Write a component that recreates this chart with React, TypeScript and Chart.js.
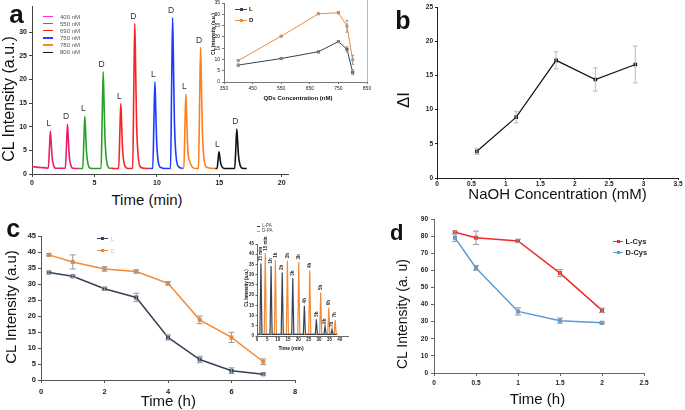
import React, { useEffect, useRef } from 'react';
import { Chart, registerables } from 'chart.js';

Chart.register(...registerables);

const FONT = '"Liberation Sans", Arial, Helvetica, sans-serif';
Chart.defaults.font.family = FONT;

// ---------- Panel a: chromatogram traces (time in min, CL intensity) ----------
const TRACE_400: [number, number][] = [[0,1.55],[0.25,1.5],[0.5,1.4],[0.8,1.35],[1.1,1.3],[1.3,1.2],[1.39,5.0],[1.47,9.1],[1.53,6.9],[1.61,3.6],[1.72,1.9],[1.92,1.2],[2.3,1.2],[2.67,1.2],[2.76,5.8],[2.84,10.5],[2.9,8.0],[2.98,4.0],[3.09,2.0],[3.29,1.2],[3.75,1.15]];
const TRACE_550: [number, number][] = [[3.75,1.15],[4.06,1.15],[4.15,6.7],[4.23,12.2],[4.29,9.2],[4.37,4.5],[4.48,2.2],[4.68,1.2],[5.1,1.15],[5.53,1.15],[5.62,11.9],[5.7,21.6],[5.76,16.2],[5.84,7.8],[5.95,3.3],[6.15,1.3],[6.3,1.2]];
const TRACE_690: [number, number][] = [[6.3,1.2],[6.6,1.15],[6.94,1.15],[7.03,8.2],[7.11,14.9],[7.17,11.2],[7.25,5.4],[7.36,2.5],[7.56,1.3],[7.8,1.15],[8.06,1.2],[8.15,17.5],[8.23,31.8],[8.29,23.9],[8.37,11.2],[8.48,4.5],[8.68,1.5],[9.0,1.2],[9.4,1.15]];
const TRACE_750: [number, number][] = [[9.4,1.15],[9.67,1.15],[9.76,10.7],[9.84,19.5],[9.9,14.6],[9.98,7.0],[10.09,3.0],[10.29,1.4],[10.7,1.15],[11.09,1.2],[11.18,18.2],[11.26,33.0],[11.32,24.8],[11.4,11.6],[11.51,4.6],[11.71,1.6],[12.07,1.2]];
const TRACE_780: [number, number][] = [[12.07,1.2],[12.16,1.15],[12.24,9.3],[12.32,16.9],[12.38,12.7],[12.46,6.0],[12.55,3.2],[12.62,2.8],[12.72,2.0],[12.9,1.3],[13.2,1.15],[13.33,1.2],[13.42,14.7],[13.5,26.7],[13.56,20.0],[13.64,9.5],[13.75,3.8],[13.95,1.5],[14.3,1.2],[14.67,1.15]];
const TRACE_800: [number, number][] = [[14.67,1.15],[14.82,1.15],[14.9,3.0],[14.97,4.7],[15.03,3.8],[15.11,2.3],[15.22,1.5],[15.42,1.15],[15.9,1.15],[16.23,1.15],[16.32,5.3],[16.4,9.5],[16.46,7.2],[16.54,3.8],[16.65,2.0],[16.85,1.2],[17.2,1.15]];
const TRACE_NAMES = ['400 nM', '550 nM', '690 nM', '750 nM', '780 nM', '800 nM'];
const PEAK_A_X = [1.47, 2.84, 4.23, 5.7, 7.11, 8.23, 9.84, 11.26, 12.32, 13.5, 14.97, 16.4];
const PEAK_A_Y = [9.1, 10.5, 12.2, 21.6, 14.9, 31.8, 19.5, 33.0, 16.9, 26.7, 4.7, 9.5];
const PEAK_A_TEXT = ['L', 'D', 'L', 'D', 'L', 'D', 'L', 'D', 'L', 'D', 'L', 'D'];
const A_X_TICKS = [0, 5, 10, 15, 20];
const A_Y_TICKS = [0, 5, 10, 15, 20, 25, 30];

// ---------- Inset of panel a: QDs concentration ----------
const QD_CONC = [400, 550, 680, 750, 780, 800];
const QD_L = [7.5, 10.4, 13.4, 17.9, 14.5, 4.3];
const QD_D = [9.5, 20.3, 30.2, 30.7, 24.7, 9.8];
const QD_L_ERR = [0.2, 0.3, 0.5, 0.4, 1.1, 1.1];
const QD_D_ERR = [0.2, 0.3, 0.3, 0.5, 2.6, 2.0];
const QD_X_TICKS = [350, 450, 550, 650, 750, 850];
const QD_Y_TICKS = [0, 5, 10, 15, 20, 25, 30, 35];

// ---------- Panel b: NaOH ----------
const NAOH = [0.58, 1.15, 1.73, 2.3, 2.88];
const DELTA_I = [3.9, 8.9, 17.2, 14.4, 16.6];
const DELTA_I_ERR = [0.45, 0.85, 1.25, 1.7, 2.7];
const B_X_TICKS = [0, 0.5, 1, 1.5, 2, 2.5, 3, 3.5];
const B_Y_TICKS = [0, 5, 10, 15, 20, 25];

// ---------- Panel c: time ----------
const TIME_C = [0.25, 1, 2, 3, 4, 5, 6, 7];
const C_L = [33.6, 32.4, 28.5, 25.8, 13.3, 6.4, 2.9, 1.8];
const C_D = [39.1, 36.9, 34.7, 33.9, 30.2, 18.8, 13.3, 5.7];
const C_L_ERR = [0.4, 0.4, 0.5, 1.3, 0.8, 1.0, 0.9, 0.4];
const C_D_ERR = [0.3, 2.2, 0.7, 0.5, 0.5, 1.2, 1.6, 0.9];
const C_X_TICKS = [0, 2, 4, 6, 8];
const C_Y_TICKS = [0, 5, 10, 15, 20, 25, 30, 35, 40, 45];

// ---------- Inset of panel c: L-PA / D-PA chromatogram ----------
const PA_L_TRACE: [number, number][] = [[0.5,0.8],[1.4,0.8],[1.9,35.5],[2.4,0.8],[6.3,0.8],[6.8,34.2],[7.3,0.8],[11.7,0.8],[12.2,31.0],[12.7,0.8],[16.8,0.8],[17.3,28.2],[17.8,0.8],[22.4,0.8],[22.9,14.8],[23.4,0.8],[28.2,0.8],[28.7,8.2],[29.2,0.8],[32.4,0.8],[32.9,4.8],[33.4,0.8],[35.8,0.8],[36.3,3.2],[36.8,0.8],[38.5,0.8]];
const PA_D_TRACE: [number, number][] = [[0.5,0.8],[3.5,0.8],[4.0,40.5],[4.5,0.8],[8.4,0.8],[8.9,37.0],[9.4,0.8],[14.2,0.8],[14.7,36.8],[15.2,0.8],[19.7,0.8],[20.2,36.2],[20.7,0.8],[25.0,0.8],[25.5,32.0],[26.0,0.8],[30.3,0.8],[30.8,21.3],[31.3,0.8],[34.2,0.8],[34.7,13.8],[35.2,0.8],[37.3,0.8],[37.8,7.8],[38.3,0.8],[39,0.8]];
const PA_L_PEAK_X = [1.9, 6.8, 12.2, 17.3, 22.9, 28.7, 32.9, 36.3];
const PA_L_PEAK_Y = [35.5, 34.2, 31.0, 28.2, 14.8, 8.2, 4.8, 3.2];
const PA_D_PEAK_X = [4.0, 8.9, 14.7, 20.2, 25.5, 30.8, 34.7, 37.8];
const PA_D_PEAK_Y = [40.5, 37.0, 36.8, 36.2, 32.0, 21.3, 13.8, 7.8];
const PA_PEAK_TEXT = ['15 min', '1h', '2h', '3h', '4h', '5h', '6h', '7h'];
const PA_X_TICKS = [0, 5, 10, 15, 20, 25, 30, 35, 40];
const PA_Y_TICKS = [0, 5, 10, 15, 20, 25, 30, 35, 40, 45];

// ---------- Panel d: Cys ----------
const TIME_D = [0.25, 0.5, 1, 1.5, 2];
const L_CYS = [82.2, 79.0, 77.2, 58.4, 36.6];
const D_CYS = [79.0, 61.4, 36.0, 30.6, 29.3];
const L_CYS_ERR = [0.6, 3.9, 1.0, 2.1, 1.3];
const D_CYS_ERR = [2.2, 1.4, 2.1, 1.5, 0.5];
const D_X_TICKS = [0, 0.5, 1, 1.5, 2, 2.5];
const D_Y_TICKS = [0, 10, 20, 30, 40, 50, 60, 70, 80, 90];

// ---------- styles ----------
const TRACE_COLORS = ['#e8206e', '#28a028', '#f52525', '#1e3cff', '#ff7f1e', '#111111'];
const LEGEND_COLORS = ['#ff33dd', '#2ca02c', '#ff2222', '#2a3cff', '#ff8c1a', '#111111'];
const DARK = '#34425a';
const ORANGE = '#f28a36';
const RED = '#ee2a2a';
const LBLUE = '#5b9bd5';

const pts = (xs: number[], ys: number[]) => xs.map((x, i) => ({ x, y: ys[i] }));
const pairs = (p: [number, number][]) => p.map(([x, y]) => ({ x, y }));

const errorBarPlugin = {
  id: 'errorBars',
  afterDatasetsDraw(chart: any) {
    const ctx = chart.ctx;
    const xs = chart.scales.x;
    const ys = chart.scales.y;
    chart.data.datasets.forEach((ds: any) => {
      if (!ds.errors) return;
      ctx.save();
      ctx.strokeStyle = ds.errorColor || '#999';
      ctx.lineWidth = ds.errorWidth || 1;
      const cap = ds.errorCap || 2.5;
      ds.data.forEach((p: any, i: number) => {
        const e = ds.errors[i];
        if (!e) return;
        const px = xs.getPixelForValue(p.x);
        const top = ys.getPixelForValue(p.y + e);
        const bot = ys.getPixelForValue(p.y - e);
        ctx.beginPath();
        ctx.moveTo(px, top); ctx.lineTo(px, bot);
        ctx.moveTo(px - cap, top); ctx.lineTo(px + cap, top);
        ctx.moveTo(px - cap, bot); ctx.lineTo(px + cap, bot);
        ctx.stroke();
      });
      ctx.restore();
    });
  },
};

const peakLabelPlugin = {
  id: 'peakLabels',
  afterDatasetsDraw(chart: any, _args: any, opts: any) {
    if (!opts || !opts.items) return;
    const ctx = chart.ctx;
    const xs = chart.scales.x;
    const ys = chart.scales.y;
    ctx.save();
    ctx.font = opts.font;
    ctx.fillStyle = opts.color || '#333';
    opts.items.forEach((it: any) => {
      const px = xs.getPixelForValue(it.x) + (opts.dx || 0);
      const py = ys.getPixelForValue(it.y) - (opts.gap || 3);
      if (opts.rotate) {
        ctx.save();
        ctx.translate(px, py);
        ctx.rotate(-Math.PI / 2);
        ctx.textAlign = 'left';
        ctx.textBaseline = 'middle';
        ctx.fillText(it.text, 0, 0);
        ctx.restore();
      } else {
        ctx.textAlign = 'center';
        ctx.textBaseline = 'bottom';
        ctx.fillText(it.text, px, py);
      }
    });
    ctx.restore();
  },
};

const frameRightPlugin = {
  id: 'frameRight',
  afterDraw(chart: any, _a: any, opts: any) {
    if (!opts || !opts.color) return;
    const { ctx, chartArea } = chart;
    ctx.save();
    ctx.strokeStyle = opts.color;
    ctx.lineWidth = 1;
    ctx.beginPath();
    ctx.moveTo(Math.round(chartArea.right) + 0.5, 0);
    ctx.lineTo(Math.round(chartArea.right) + 0.5, chartArea.bottom);
    ctx.stroke();
    ctx.restore();
  },
};

function axis(o: any) {
  return {
    type: 'linear',
    min: o.min,
    max: o.max,
    afterBuildTicks: (a: any) => { a.ticks = o.ticks.map((v: number) => ({ value: v })); },
    afterFit: (a: any) => {
      if (a.isHorizontal()) { a.height = o.size; a.paddingLeft = 0; a.paddingRight = 0; }
      else { a.width = o.size; a.paddingTop = 0; a.paddingBottom = 0; }
    },
    grid: { display: true, drawOnChartArea: false, drawTicks: true, tickLength: o.tl, color: o.color || '#555', lineWidth: 1 },
    border: { display: true, color: o.color || '#555', width: 1 },
    ticks: {
      padding: o.pad,
      autoSkip: false,
      maxRotation: 0,
      minRotation: 0,
      color: '#222',
      font: { family: FONT, size: o.fs, weight: o.bold ? 'bold' : 'normal' },
      callback: (v: any) => String(v),
    },
  };
}

function baseOptions(pad: any, x: any, y: any, plugins: any = {}) {
  return {
    responsive: false,
    animation: false,
    devicePixelRatio: 1,
    layout: { padding: pad, autoPadding: false },
    plugins: { legend: { display: false }, tooltip: { enabled: false }, ...plugins },
    scales: { x: axis(x), y: axis(y) },
  };
}

function ChartBox({ left, top, width, height, make }: any) {
  const ref = useRef<HTMLCanvasElement | null>(null);
  useEffect(() => {
    const chart = new Chart(ref.current as HTMLCanvasElement, make());
    return () => chart.destroy();
  }, []);
  return (
    <canvas ref={ref} width={width} height={height}
      style={{ position: 'absolute', left, top, width, height }} />
  );
}

function T({ x, y, size, children, bold = false, rot = false, color = '#111', left = false }: any) {
  const tr = (left ? 'translate(0,-50%)' : 'translate(-50%,-50%)') + (rot ? ' rotate(-90deg)' : '');
  return (
    <div style={{ position: 'absolute', left: x, top: y, fontFamily: FONT, fontSize: size, fontWeight: bold ? 700 : 400, color, lineHeight: 1, whiteSpace: 'nowrap', transform: tr }}>
      {children}
    </div>
  );
}

function LegendLine({ x, y, w, color, marker = 0, thick = 1.5 }: any) {
  return (
    <>
      <div style={{ position: 'absolute', left: x, top: y - thick / 2, width: w, height: thick, background: color }} />
      {marker > 0 && (
        <div style={{ position: 'absolute', left: x + w / 2 - marker / 2, top: y - marker / 2, width: marker, height: marker, background: color }} />
      )}
    </>
  );
}

const makeA = () => ({
  type: 'scatter',
  data: {
    datasets: [TRACE_400, TRACE_550, TRACE_690, TRACE_750, TRACE_780, TRACE_800].map((t, i) => ({
      data: pairs(t), showLine: true, borderColor: TRACE_COLORS[i], borderWidth: 1.6,
      pointRadius: 0, cubicInterpolationMode: 'monotone', fill: false,
    })),
  },
  options: baseOptions(
    { left: 0, top: 6, right: 12, bottom: 0 },
    { min: 0, max: 20.5, ticks: A_X_TICKS, size: 16, tl: 3, pad: 2, fs: 7, bold: true, color: '#444' },
    { min: 0, max: 35.5, ticks: A_Y_TICKS, size: 32, tl: 3, pad: 2, fs: 7, bold: true, color: '#444' },
    { peakLabels: { items: PEAK_A_X.map((x, i) => ({ x, y: PEAK_A_Y[i], text: PEAK_A_TEXT[i] })), font: `8.5px ${FONT}`, color: '#333', dx: -1.5, gap: 3 } }
  ),
  plugins: [peakLabelPlugin],
});

const makeInsetA = () => ({
  type: 'scatter',
  data: {
    datasets: [
      { data: pts(QD_CONC, QD_L), showLine: true, borderColor: DARK, backgroundColor: DARK, borderWidth: 1, pointStyle: 'rect', pointRadius: 1.5, errors: QD_L_ERR, errorColor: '#999', errorCap: 1.5 },
      { data: pts(QD_CONC, QD_D), showLine: true, borderColor: ORANGE, backgroundColor: ORANGE, borderWidth: 1, pointStyle: 'rect', pointRadius: 1.5, errors: QD_D_ERR, errorColor: '#999', errorCap: 1.5 },
    ],
  },
  options: baseOptions(
    { left: 0, top: 3, right: 8, bottom: 0 },
    { min: 350, max: 850, ticks: QD_X_TICKS, size: 13, tl: 2, pad: 2, fs: 5, bold: false, color: '#777' },
    { min: 0, max: 35, ticks: QD_Y_TICKS, size: 24, tl: 2, pad: 2, fs: 5, bold: false, color: '#777' },
    { frameRight: { color: '#bbb' } }
  ),
  plugins: [errorBarPlugin, frameRightPlugin],
});

const makeB = () => ({
  type: 'scatter',
  data: {
    datasets: [
      { data: pts(NAOH, DELTA_I), showLine: true, borderColor: '#111', backgroundColor: '#111', borderWidth: 1.2, pointStyle: 'rect', pointRadius: 1.7, errors: DELTA_I_ERR, errorColor: '#bbb', errorCap: 2.5 },
    ],
  },
  options: baseOptions(
    { left: 0, top: 7, right: 7, bottom: 0 },
    { min: 0, max: 3.5, ticks: B_X_TICKS, size: 17, tl: 2, pad: 0, fs: 6.5, bold: true, color: '#222' },
    { min: 0, max: 25, ticks: B_Y_TICKS, size: 37, tl: 2, pad: 2, fs: 6.5, bold: true, color: '#222' }
  ),
  plugins: [errorBarPlugin],
});

const makeC = () => ({
  type: 'scatter',
  data: {
    datasets: [
      { data: pts(TIME_C, C_L), showLine: true, borderColor: DARK, backgroundColor: DARK, borderWidth: 1.5, pointStyle: 'rect', pointRadius: 1.8, errors: C_L_ERR, errorColor: '#999', errorCap: 3 },
      { data: pts(TIME_C, C_D), showLine: true, borderColor: ORANGE, backgroundColor: ORANGE, borderWidth: 1.5, pointStyle: 'rect', pointRadius: 1.8, errors: C_D_ERR, errorColor: '#999', errorCap: 3 },
    ],
  },
  options: baseOptions(
    { left: 0, top: 14, right: 5, bottom: 0 },
    { min: 0, max: 8, ticks: C_X_TICKS, size: 15, tl: 3, pad: 4, fs: 7.5, bold: true, color: '#555' },
    { min: 0, max: 45, ticks: C_Y_TICKS, size: 41, tl: 3, pad: 2, fs: 7.5, bold: true, color: '#555' }
  ),
  plugins: [errorBarPlugin],
});

const makeInsetC = () => ({
  type: 'scatter',
  data: {
    datasets: [
      { data: pairs(PA_L_TRACE), showLine: true, borderColor: DARK, borderWidth: 1.2, pointRadius: 0 },
      { data: pairs(PA_D_TRACE), showLine: true, borderColor: ORANGE, borderWidth: 1.2, pointRadius: 0 },
    ],
  },
  options: baseOptions(
    { left: 0, top: 22, right: 4, bottom: 0 },
    { min: 0, max: 44, ticks: PA_X_TICKS, size: 10, tl: 1, pad: 0, fs: 4.5, bold: true, color: '#666' },
    { min: 0, max: 45, ticks: PA_Y_TICKS, size: 17, tl: 1.5, pad: 1.5, fs: 4.5, bold: true, color: '#666' },
    {
      peakLabels: {
        items: [
          ...PA_L_PEAK_X.map((x, i) => ({ x, y: PA_L_PEAK_Y[i], text: PA_PEAK_TEXT[i] })),
          ...PA_D_PEAK_X.map((x, i) => ({ x, y: PA_D_PEAK_Y[i], text: PA_PEAK_TEXT[i] })),
        ],
        font: `bold 4.5px ${FONT}`, color: '#333', dx: 0, gap: 2.5, rotate: true,
      },
    }
  ),
  plugins: [peakLabelPlugin],
});

const makeD = () => ({
  type: 'scatter',
  data: {
    datasets: [
      { data: pts(TIME_D, L_CYS), showLine: true, borderColor: RED, backgroundColor: RED, borderWidth: 1.5, pointStyle: 'rect', pointRadius: 1.8, errors: L_CYS_ERR, errorColor: '#999', errorCap: 3 },
      { data: pts(TIME_D, D_CYS), showLine: true, borderColor: LBLUE, backgroundColor: LBLUE, borderWidth: 1.5, pointStyle: 'rect', pointRadius: 1.8, errors: D_CYS_ERR, errorColor: '#999', errorCap: 3 },
    ],
  },
  options: baseOptions(
    { left: 0, top: 9, right: 41, bottom: 0 },
    { min: 0, max: 2.5, ticks: D_X_TICKS, size: 17, tl: 3, pad: 3, fs: 6.5, bold: true, color: '#666' },
    { min: 0, max: 90, ticks: D_Y_TICKS, size: 34, tl: 3, pad: 3, fs: 6.5, bold: true, color: '#666' }
  ),
  plugins: [errorBarPlugin],
});

const LEGEND_A_Y = [16.7, 23.7, 30.7, 38, 45, 52.3];

export default function App() {
  return (
    <div style={{ position: 'fixed', left: 0, top: 0, width: 685, height: 410, background: '#fff', overflow: 'hidden' }}>
      {/* Panel a */}
      <ChartBox left={0} top={0} width={300} height={190} make={makeA} />
      <ChartBox left={200} top={0} width={175} height={95} make={makeInsetA} />
      <T x={16.5} y={13.7} size={26} bold>a</T>
      <T x={8.5} y={99} size={16} rot>CL Intensity (a.u.)</T>
      <T x={147} y={199} size={15}>Time (min)</T>
      {TRACE_NAMES.map((n, i) => (
        <React.Fragment key={n}>
          <LegendLine x={43} y={LEGEND_A_Y[i]} w={10} color={LEGEND_COLORS[i]} thick={1.6} />
          <T x={60} y={LEGEND_A_Y[i]} size={6} color="#555" left>{n}</T>
        </React.Fragment>
      ))}
      <T x={213} y={34} size={5} bold rot>CL Intensity (a.u.)</T>
      <T x={298} y={98} size={6} bold>QDs Concentration (nM)</T>
      <LegendLine x={235} y={9} w={12} color={DARK} marker={3} thick={1} />
      <T x={249} y={9} size={6} bold left>L</T>
      <LegendLine x={235} y={20} w={12} color={ORANGE} marker={3} thick={1} />
      <T x={249} y={20} size={6} bold left>D</T>

      {/* Panel b */}
      <ChartBox left={400} top={0} width={285} height={195} make={makeB} />
      <T x={403} y={19.6} size={25} bold>b</T>
      <T x={403} y={100} size={17} rot>ΔI</T>
      <T x={557.5} y={193} size={15}>NaOH Concentration (mM)</T>

      {/* Panel c */}
      <ChartBox left={0} top={222} width={300} height={173} make={makeC} />
      <ChartBox left={240} top={222} width={112} height={124} make={makeInsetC} />
      <T x={13.3} y={228} size={25} bold>c</T>
      <T x={10} y={306.7} size={15} rot>CL Intensity (a.u)</T>
      <T x={168.3} y={400} size={15}>Time (h)</T>
      <LegendLine x={97} y={238.5} w={11} color={DARK} marker={2.5} thick={1.2} />
      <T x={111} y={238.5} size={5} color="#bbb" left>L</T>
      <LegendLine x={97} y={250.5} w={11} color={ORANGE} marker={2.5} thick={1.2} />
      <T x={111} y={250.5} size={5} color="#bbb" left>D</T>
      <LegendLine x={257} y={226} w={3} color={DARK} thick={1} />
      <T x={262} y={226} size={4.5} color="#444" left>L-PA</T>
      <LegendLine x={257} y={231} w={3} color={ORANGE} thick={1} />
      <T x={262} y={231} size={4.5} color="#444" left>D-PA</T>
      <T x={246.5} y={288} size={4.5} bold rot>CL Intensity (a.u.)</T>
      <T x={291} y={347.7} size={5} bold>Time (min)</T>

      {/* Panel d */}
      <ChartBox left={400} top={210} width={285} height={180} make={makeD} />
      <T x={396.7} y={232.9} size={22} bold>d</T>
      <T x={401.7} y={314} size={14} rot>CL Intensity (a. u)</T>
      <T x={537.5} y={398} size={15}>Time (h)</T>
      <LegendLine x={613} y={241.7} w={10} color={RED} marker={3} thick={1.3} />
      <T x={625.5} y={241.7} size={7.5} bold color="#222" left>L-Cys</T>
      <LegendLine x={613} y={252.7} w={10} color={LBLUE} marker={3} thick={1.3} />
      <T x={625.5} y={252.7} size={7.5} bold color="#222" left>D-Cys</T>
    </div>
  );
}
